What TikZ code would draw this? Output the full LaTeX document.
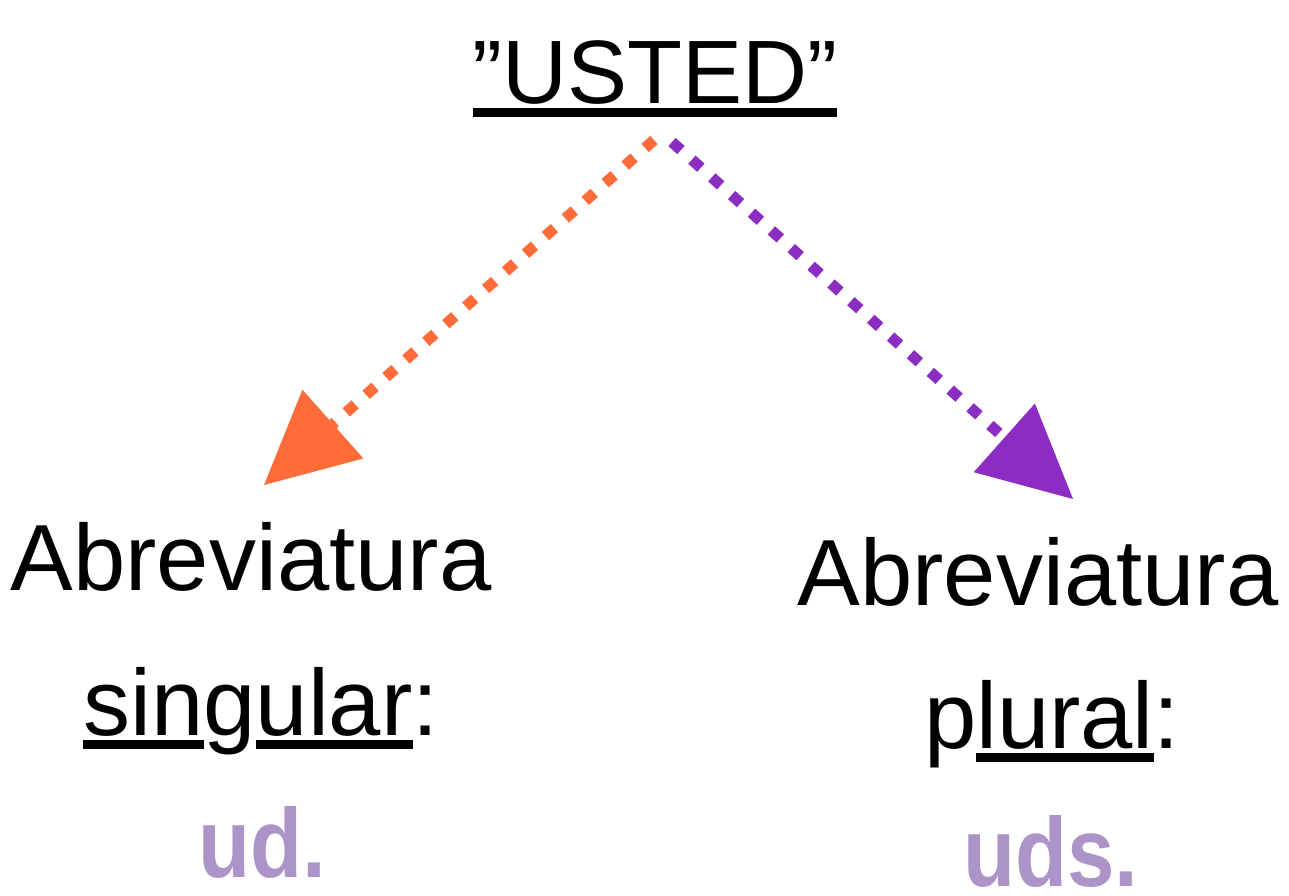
\documentclass[tikz,border=0pt]{standalone}
\usepackage{fontspec}
\setmainfont{Liberation Sans}
\usetikzlibrary{arrows.meta}
\definecolor{orangeA}{HTML}{FF6C3A}
\definecolor{purpleA}{HTML}{8B2CC3}
\definecolor{lavender}{HTML}{AD94C8}
\newsavebox{\ulbox}
\newcommand{\ulbar}[1]{\sbox{\ulbox}{#1}\rlap{\rule[-7pt]{\wd\ulbox}{4.5pt}}\usebox{\ulbox}}
\newcommand{\narrowbold}[1]{\scalebox{0.87}[1]{#1}}
\begin{document}
\begin{tikzpicture}[x=0.5pt,y=-0.5pt,
  txt/.style={anchor=base,inner sep=0pt,font=\fontsize{47}{56}\selectfont},
  abbr/.style={anchor=base,inner sep=0pt,font=\fontsize{49}{56}\selectfont\bfseries,text=lavender},
  dotline/.style={line width=5.5pt,dash pattern=on 6pt off 7.3pt,line cap=butt,
    -{Triangle[length=46pt,width=46pt,line width=0pt]}}]
\path (0,0) rectangle (1289,895);
% title
\node[txt,font=\fontsize{45}{54}\selectfont] (usted) at (655,103) {\ulbar{”USTED”}};
% left block
\node[txt] (abrL) at (251,590) {Abreviatura};
\node[txt] (singL) at (261,735) {\ulbar{sin}g\ulbar{ular}:};
\node[abbr] (udL) at (262,877) {\narrowbold{ud.}};
% right block
\node[txt] (abrR) at (1038,605) {Abreviatura};
\node[txt] (plurR) at (1052,748) {p\ulbar{lural}:};
\node[abbr] (udsR) at (1051,886) {\narrowbold{uds.}};
% connectors
\coordinate (ostart) at (654,140);
\coordinate (otip) at (264,485);
\coordinate (pstart) at (672,142);
\coordinate (ptip) at (1073,499);
\draw[dotline,orangeA] (ostart) -- (otip);
\draw[dotline,purpleA] (pstart) -- (ptip);
\end{tikzpicture}
\end{document}
